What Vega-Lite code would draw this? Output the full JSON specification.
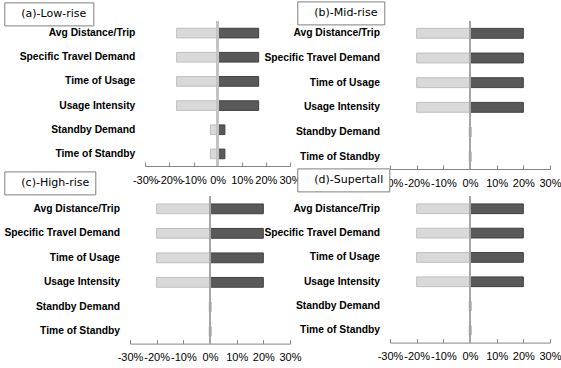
{
  "$schema": "https://vega.github.io/schema/vega-lite/v6.json",
  "padding": {"left": 3, "top": 0, "right": 0, "bottom": 0},
  "background": "white",
  "config": {
    "view": {"stroke": null},
    "font": "Liberation Sans",
    "axisX": {
      "grid": false,
      "title": null,
      "domainColor": "#868686",
      "tickColor": "#868686",
      "tickSize": -4,
      "labelPadding": 12,
      "labelFontSize": 11,
      "labelColor": "#000000",
      "labelOverlap": false,
      "labelFlush": false,
      "labelBound": false
    },
    "axisY": {
      "domain": false,
      "ticks": false,
      "title": null,
      "labelFontWeight": "bold",
      "labelFontSize": 10.3,
      "labelPadding": 10.5,
      "labelColor": "#000000",
      "labelLimit": 0
    },
    "legend": {
      "title": null,
      "orient": "none",
      "strokeColor": "#7f7f7f",
      "fillColor": "white",
      "padding": 6,
      "columnPadding": 0,
      "symbolSize": 0,
      "symbolOpacity": 0,
      "symbolStrokeWidth": 0,
      "labelOffset": 0,
      "labelFont": "DejaVu Sans",
      "labelFontSize": 11,
      "labelColor": "#000000",
      "labelLimit": 200
    }
  },
  "data": {
    "values": [
      {"panel": "(a)-Low-rise", "factor": "Avg Distance/Trip", "side": "low", "value": -0.17},
      {"panel": "(a)-Low-rise", "factor": "Avg Distance/Trip", "side": "high", "value": 0.17},
      {"panel": "(a)-Low-rise", "factor": "Specific Travel Demand", "side": "low", "value": -0.17},
      {"panel": "(a)-Low-rise", "factor": "Specific Travel Demand", "side": "high", "value": 0.17},
      {"panel": "(a)-Low-rise", "factor": "Time of Usage", "side": "low", "value": -0.17},
      {"panel": "(a)-Low-rise", "factor": "Time of Usage", "side": "high", "value": 0.17},
      {"panel": "(a)-Low-rise", "factor": "Usage Intensity", "side": "low", "value": -0.17},
      {"panel": "(a)-Low-rise", "factor": "Usage Intensity", "side": "high", "value": 0.17},
      {"panel": "(a)-Low-rise", "factor": "Standby Demand", "side": "low", "value": -0.03},
      {"panel": "(a)-Low-rise", "factor": "Standby Demand", "side": "high", "value": 0.03},
      {"panel": "(a)-Low-rise", "factor": "Time of Standby", "side": "low", "value": -0.03},
      {"panel": "(a)-Low-rise", "factor": "Time of Standby", "side": "high", "value": 0.03},
      {"panel": "(b)-Mid-rise", "factor": "Avg Distance/Trip", "side": "low", "value": -0.2},
      {"panel": "(b)-Mid-rise", "factor": "Avg Distance/Trip", "side": "high", "value": 0.2},
      {"panel": "(b)-Mid-rise", "factor": "Specific Travel Demand", "side": "low", "value": -0.2},
      {"panel": "(b)-Mid-rise", "factor": "Specific Travel Demand", "side": "high", "value": 0.2},
      {"panel": "(b)-Mid-rise", "factor": "Time of Usage", "side": "low", "value": -0.2},
      {"panel": "(b)-Mid-rise", "factor": "Time of Usage", "side": "high", "value": 0.2},
      {"panel": "(b)-Mid-rise", "factor": "Usage Intensity", "side": "low", "value": -0.2},
      {"panel": "(b)-Mid-rise", "factor": "Usage Intensity", "side": "high", "value": 0.2},
      {"panel": "(b)-Mid-rise", "factor": "Standby Demand", "side": "low", "value": -0.003},
      {"panel": "(b)-Mid-rise", "factor": "Standby Demand", "side": "high", "value": 0.003},
      {"panel": "(b)-Mid-rise", "factor": "Time of Standby", "side": "low", "value": -0.003},
      {"panel": "(b)-Mid-rise", "factor": "Time of Standby", "side": "high", "value": 0.003},
      {"panel": "(c)-High-rise", "factor": "Avg Distance/Trip", "side": "low", "value": -0.2},
      {"panel": "(c)-High-rise", "factor": "Avg Distance/Trip", "side": "high", "value": 0.2},
      {"panel": "(c)-High-rise", "factor": "Specific Travel Demand", "side": "low", "value": -0.2},
      {"panel": "(c)-High-rise", "factor": "Specific Travel Demand", "side": "high", "value": 0.2},
      {"panel": "(c)-High-rise", "factor": "Time of Usage", "side": "low", "value": -0.2},
      {"panel": "(c)-High-rise", "factor": "Time of Usage", "side": "high", "value": 0.2},
      {"panel": "(c)-High-rise", "factor": "Usage Intensity", "side": "low", "value": -0.2},
      {"panel": "(c)-High-rise", "factor": "Usage Intensity", "side": "high", "value": 0.2},
      {"panel": "(c)-High-rise", "factor": "Standby Demand", "side": "low", "value": -0.003},
      {"panel": "(c)-High-rise", "factor": "Standby Demand", "side": "high", "value": 0.003},
      {"panel": "(c)-High-rise", "factor": "Time of Standby", "side": "low", "value": -0.003},
      {"panel": "(c)-High-rise", "factor": "Time of Standby", "side": "high", "value": 0.003},
      {"panel": "(d)-Supertall", "factor": "Avg Distance/Trip", "side": "low", "value": -0.2},
      {"panel": "(d)-Supertall", "factor": "Avg Distance/Trip", "side": "high", "value": 0.2},
      {"panel": "(d)-Supertall", "factor": "Specific Travel Demand", "side": "low", "value": -0.2},
      {"panel": "(d)-Supertall", "factor": "Specific Travel Demand", "side": "high", "value": 0.2},
      {"panel": "(d)-Supertall", "factor": "Time of Usage", "side": "low", "value": -0.2},
      {"panel": "(d)-Supertall", "factor": "Time of Usage", "side": "high", "value": 0.2},
      {"panel": "(d)-Supertall", "factor": "Usage Intensity", "side": "low", "value": -0.2},
      {"panel": "(d)-Supertall", "factor": "Usage Intensity", "side": "high", "value": 0.2},
      {"panel": "(d)-Supertall", "factor": "Standby Demand", "side": "low", "value": -0.003},
      {"panel": "(d)-Supertall", "factor": "Standby Demand", "side": "high", "value": 0.003},
      {"panel": "(d)-Supertall", "factor": "Time of Standby", "side": "low", "value": -0.003},
      {"panel": "(d)-Supertall", "factor": "Time of Standby", "side": "high", "value": 0.003}
    ]
  },
  "columns": 2,
  "spacing": {"row": 27.6, "column": 100},
  "bounds": "flush",
  "align": "none",
  "resolve": {"scale": {"opacity": "independent"}, "legend": {"opacity": "independent"}},
  "concat": [
    {
      "width": 160, "height": 145,
      "transform": [{"filter": "datum.panel === '(a)-Low-rise'"}],
      "layer": [
        {
          "mark": {"type": "bar", "strokeWidth": 1},
          "encoding": {
            "y": {"field": "factor", "type": "nominal", "sort": ["Avg Distance/Trip", "Specific Travel Demand", "Time of Usage", "Usage Intensity", "Standby Demand", "Time of Standby"], "scale": {"paddingInner": 0.6, "paddingOuter": 0.3}, "axis": {"labelPadding": -4.8}},
            "x": {"field": "value", "type": "quantitative", "scale": {"domain": [-0.3, 0.3], "range": [15.3, 160]}, "axis": {"values": [-0.3, -0.2, -0.1, 0, 0.1, 0.2, 0.3], "labelExpr": "replace(format(datum.value, '.0%'), '\u2212', '-')", "labelOverlap": false}},
            "color": {"field": "side", "type": "nominal", "scale": {"domain": ["low", "high"], "range": ["#d9d9d9", "#595959"]}, "legend": null},
            "stroke": {"field": "side", "type": "nominal", "scale": {"domain": ["low", "high"], "range": ["#bfbfbf", "#404040"]}, "legend": null},
            "opacity": {"field": "panel", "type": "nominal", "scale": {"range": [1, 1]}, "legend": {"legendX": -125.7, "legendY": -18.6}}
          }
        },
        {"mark": {"type": "rule", "color": "#c4c4c4", "strokeWidth": 2}, "encoding": {"x": {"datum": 0, "axis": {"values": [-0.3, -0.2, -0.1, 0, 0.1, 0.2, 0.3], "labelExpr": "replace(format(datum.value, '.0%'), '\u2212', '-')", "labelOverlap": false}}}}
      ]
    },
    {
      "width": 160, "height": 148,
      "transform": [{"filter": "datum.panel === '(b)-Mid-rise'"}],
      "layer": [
        {
          "mark": {"type": "bar", "strokeWidth": 1},
          "encoding": {
            "y": {"field": "factor", "type": "nominal", "sort": ["Avg Distance/Trip", "Specific Travel Demand", "Time of Usage", "Usage Intensity", "Standby Demand", "Time of Standby"], "scale": {"paddingInner": 0.6, "paddingOuter": 0.3}},
            "x": {"field": "value", "type": "quantitative", "scale": {"domain": [-0.3, 0.3]}, "axis": {"values": [-0.3, -0.2, -0.1, 0, 0.1, 0.2, 0.3], "labelExpr": "replace(format(datum.value, '.0%'), '\u2212', '-')", "labelOverlap": false}},
            "color": {"field": "side", "type": "nominal", "scale": {"domain": ["low", "high"], "range": ["#d9d9d9", "#595959"]}, "legend": null},
            "stroke": {"field": "side", "type": "nominal", "scale": {"domain": ["low", "high"], "range": ["#bfbfbf", "#404040"]}, "legend": null},
            "opacity": {"field": "panel", "type": "nominal", "scale": {"range": [1, 1]}, "legend": {"legendX": -92.7, "legendY": -19.6}}
          }
        },
        {"mark": {"type": "rule", "color": "#a6a6a6", "strokeWidth": 1.5}, "encoding": {"x": {"datum": 0, "axis": {"values": [-0.3, -0.2, -0.1, 0, 0.1, 0.2, 0.3], "labelExpr": "replace(format(datum.value, '.0%'), '\u2212', '-')", "labelOverlap": false}}}}
      ]
    },
    {
      "width": 160, "height": 147,
      "transform": [{"filter": "datum.panel === '(c)-High-rise'"}],
      "layer": [
        {
          "mark": {"type": "bar", "strokeWidth": 1},
          "encoding": {
            "y": {"field": "factor", "type": "nominal", "sort": ["Avg Distance/Trip", "Specific Travel Demand", "Time of Usage", "Usage Intensity", "Standby Demand", "Time of Standby"], "scale": {"paddingInner": 0.6, "paddingOuter": 0.3}},
            "x": {"field": "value", "type": "quantitative", "scale": {"domain": [-0.3, 0.3]}, "axis": {"values": [-0.3, -0.2, -0.1, 0, 0.1, 0.2, 0.3], "labelExpr": "replace(format(datum.value, '.0%'), '\u2212', '-')", "labelOverlap": false}},
            "color": {"field": "side", "type": "nominal", "scale": {"domain": ["low", "high"], "range": ["#d9d9d9", "#595959"]}, "legend": null},
            "stroke": {"field": "side", "type": "nominal", "scale": {"domain": ["low", "high"], "range": ["#bfbfbf", "#404040"]}, "legend": null},
            "opacity": {"field": "panel", "type": "nominal", "scale": {"range": [1, 1]}, "legend": {"legendX": -125.7, "legendY": -25.2}}
          }
        },
        {"mark": {"type": "rule", "color": "#a6a6a6", "strokeWidth": 1.5}, "encoding": {"x": {"datum": 0, "axis": {"values": [-0.3, -0.2, -0.1, 0, 0.1, 0.2, 0.3], "labelExpr": "replace(format(datum.value, '.0%'), '\u2212', '-')", "labelOverlap": false}}}}
      ]
    },
    {
      "width": 160, "height": 146,
      "transform": [{"filter": "datum.panel === '(d)-Supertall'"}],
      "layer": [
        {
          "mark": {"type": "bar", "strokeWidth": 1},
          "encoding": {
            "y": {"field": "factor", "type": "nominal", "sort": ["Avg Distance/Trip", "Specific Travel Demand", "Time of Usage", "Usage Intensity", "Standby Demand", "Time of Standby"], "scale": {"paddingInner": 0.6, "paddingOuter": 0.3}},
            "x": {"field": "value", "type": "quantitative", "scale": {"domain": [-0.3, 0.3]}, "axis": {"values": [-0.3, -0.2, -0.1, 0, 0.1, 0.2, 0.3], "labelExpr": "replace(format(datum.value, '.0%'), '\u2212', '-')", "labelOverlap": false}},
            "color": {"field": "side", "type": "nominal", "scale": {"domain": ["low", "high"], "range": ["#d9d9d9", "#595959"]}, "legend": null},
            "stroke": {"field": "side", "type": "nominal", "scale": {"domain": ["low", "high"], "range": ["#bfbfbf", "#404040"]}, "legend": null},
            "opacity": {"field": "panel", "type": "nominal", "scale": {"range": [1, 1]}, "legend": {"legendX": -92.7, "legendY": -28.2}}
          }
        },
        {"mark": {"type": "rule", "color": "#a6a6a6", "strokeWidth": 1.5}, "encoding": {"x": {"datum": 0, "axis": {"values": [-0.3, -0.2, -0.1, 0, 0.1, 0.2, 0.3], "labelExpr": "replace(format(datum.value, '.0%'), '\u2212', '-')", "labelOverlap": false}}}}
      ]
    }
  ]
}
